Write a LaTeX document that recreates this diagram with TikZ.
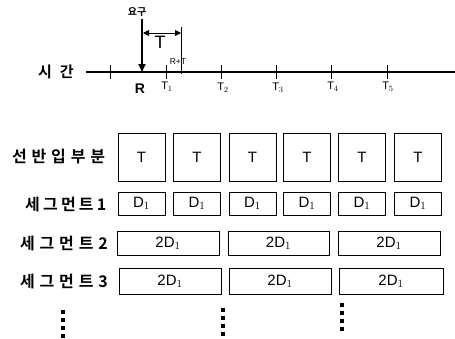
\documentclass[tikz,border=0pt]{standalone}
\usepackage{fontspec}
\setmainfont{Liberation Sans}
\newfontfamily\kr[LetterSpace=30]{Noto Sans CJK KR Bold}
\newfontfamily\krn[LetterSpace=20]{Noto Sans CJK KR Bold}
\newfontfamily\krs{Noto Sans CJK KR Bold}
\usetikzlibrary{arrows.meta}
\begin{document}
\begin{tikzpicture}[x=1pt,y=-1pt,
  box/.style={draw,line width=1pt,inner sep=0pt,font=\fontsize{15}{15}\selectfont},
  rowlab/.style={font=\kr\fontsize{16}{16}\selectfont,anchor=west,inner sep=0pt},
  tlab/.style={font=\fontsize{11}{11}\selectfont,inner sep=0pt},
  dotsq/.style={fill=black,minimum size=4pt,inner sep=0pt}]
\useasboundingbox (0,0) rectangle (455,338);
% timeline
\node[font=\krs\fontsize{15}{15}\selectfont,inner sep=0pt] (time) at (56,72) {시\hspace{8pt}간};
\coordinate (tl0) at (86,72);
\coordinate (tl1) at (455,72);
\draw[line width=1.2pt] (tl0) -- (tl1);
\foreach \x/\n in {110/a,166/b,221/c,276/d,331/e,387/f}{
  \coordinate (tk\n u) at (\x,65); \coordinate (tk\n d) at (\x,79);
  \draw[line width=1pt] (tk\n u) -- (tk\n d);}
\coordinate (vt) at (181,27); \coordinate (vb) at (181,74);
\draw[line width=1pt] (vt) -- (vb);
% request arrow
\node[font=\krs\fontsize{10}{10}\selectfont,inner sep=0pt] (req) at (137,12) {요구};
\coordinate (ra) at (142,19); \coordinate (rb) at (142,72);
\draw[line width=1.8pt,-{Triangle[length=8pt,width=7pt]}] (ra) -- (rb);
\coordinate (da) at (143,33); \coordinate (db) at (181,33);
\draw[line width=0.9pt,{Triangle[length=6pt,width=6pt]}-{Triangle[length=6pt,width=6pt]}] (da) -- (db);
\node[font=\fontsize{18}{18}\selectfont,inner sep=0pt] (tt) at (160,42) {T};
\node[font=\bfseries\fontsize{14}{14}\selectfont,inner sep=0pt] (rr) at (140,89) {R};
\node[font=\fontsize{8.5}{8.5}\selectfont,inner sep=0pt] (rt) at (178,62) {R+T};
\node[tlab] (t1) at (167,87) {T$_1$};
\node[tlab] (t2) at (223,88) {T$_2$};
\node[tlab] (t3) at (278,88) {T$_3$};
\node[tlab] (t4) at (333,87) {T$_4$};
\node[tlab] (t5) at (388,87) {T$_5$};
% rows
\node[rowlab] (l1) at (12,157) {선반입부분};
\node[rowlab,font=\krn\fontsize{16}{16}\selectfont] (l2) at (25,204) {세그먼트1};
\node[rowlab] (l3) at (20,243) {세그먼트2};
\node[rowlab] (l4) at (20,281) {세그먼트3};
\foreach \x/\n in {141.5/1,197/2,252.5/3,307/4,362/5,418/6}{
  \node[box,minimum width=47pt,minimum height=48pt] (p\n) at (\x,157) {T};
  \node[box,minimum width=47pt,minimum height=23pt] (s\n) at (\x,203.5) {D$_1$};}
\foreach \a/\b/\n in {117/219/1,228/329/2,338/440/3}{
  \node[box,minimum width=\b-\a,minimum height=24pt] (u\n) at ({(\a+\b)/2},243) {2D$_1$};}
\foreach \a/\b/\n in {119/221/1,229/331/2,339/443/3}{
  \node[box,minimum width=\b-\a,minimum height=26pt] (v\n) at ({(\a+\b)/2},281) {2D$_1$};}
% dots
\foreach \x/\y/\n in {63/312/a,223/310/b,342/305/c}{
  \foreach \k in {0,1,2,3}{
    \node[dotsq] (dot\n\k) at (\x,\y+8*\k) {};}}
\end{tikzpicture}
\end{document}
